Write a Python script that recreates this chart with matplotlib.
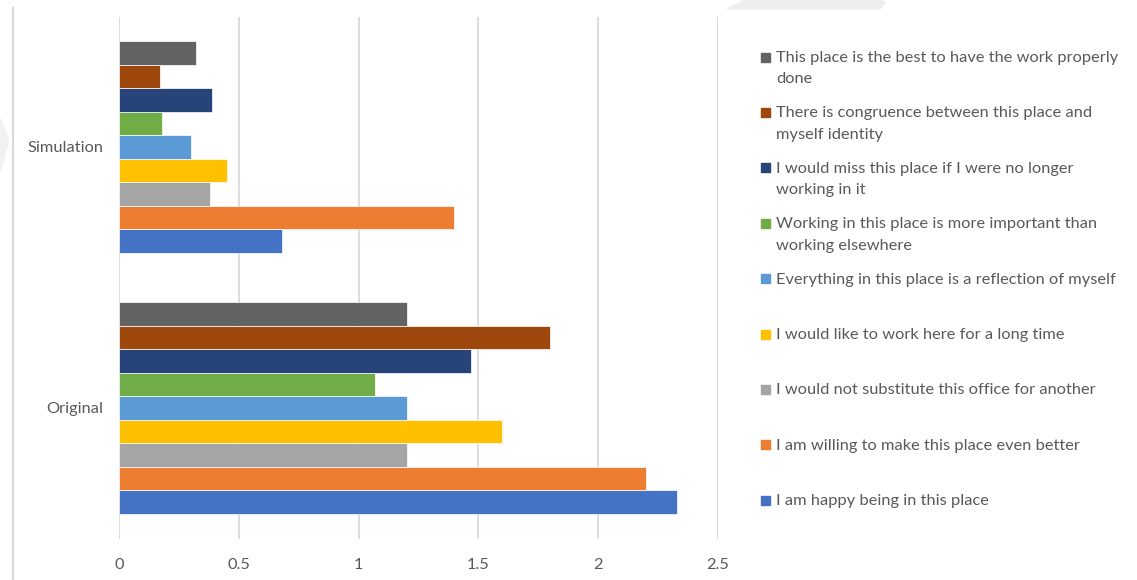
import matplotlib
matplotlib.use("Agg")
import matplotlib.pyplot as plt
from matplotlib.patches import Polygon, Rectangle
import numpy as np

categories = ["Original", "Simulation"]
series_labels = [
    "I am happy being in this place",
    "I am willing to make this place even better",
    "I would not substitute this office for another",
    "I would like to work here for a long time",
    "Everything in this place is a reflection of myself",
    "Working in this place is more important than\nworking elsewhere",
    "I would miss this place if I were no longer\nworking in it",
    "There is congruence between this place and\nmyself identity",
    "This place is the best to have the work properly\ndone",
]
original_values = [2.33, 2.20, 1.20, 1.60, 1.20, 1.07, 1.47, 1.80, 1.20]
simulation_values = [0.68, 1.40, 0.38, 0.45, 0.30, 0.18, 0.39, 0.17, 0.32]
colors = ["#4472C4", "#ED7D31", "#A5A5A5", "#FFC000", "#5B9BD5",
          "#70AD47", "#264478", "#9E480E", "#636363"]
x_ticks = [0, 0.5, 1, 1.5, 2, 2.5]
x_tick_labels = ["0", "0.5", "1", "1.5", "2", "2.5"]

FONT = "Lato"
FS = 11.8
TXT = "#595959"
W, H = 1137, 580
fig = plt.figure(figsize=(W / 100, H / 100), dpi=100)
fig.patch.set_facecolor("white")

def fx(px):
    return px / W

def fy(py):
    return 1 - py / H

ax = fig.add_axes([fx(119), fy(538.5), fx(718) - fx(119), fy(16.5) - fy(538.5)])

n = len(series_labels)
h = 0.81 / n
ypos = np.arange(len(categories))
for i in range(n):
    vals = [original_values[i], simulation_values[i]]
    ax.barh(ypos + (i - (n - 1) / 2) * h, vals, height=h, color=colors[i],
            edgecolor="white", linewidth=0.5, zorder=3, label=series_labels[i])

ax.set_xlim(0, 2.5)
ax.set_ylim(-0.5, 1.5)
ax.set_xticks(x_ticks)
ax.set_xticklabels(x_tick_labels)
ax.set_yticks(ypos)
ax.set_yticklabels(categories)
ax.grid(axis="x", color="#D9D9D9", linewidth=1.3, zorder=0)
ax.set_axisbelow(True)
for s in ax.spines.values():
    s.set_visible(False)
ax.tick_params(axis="both", length=0, labelcolor=TXT, labelsize=FS)
ax.tick_params(axis="x", pad=14)
ax.tick_params(axis="y", pad=11)
for lbl in ax.get_xticklabels() + ax.get_yticklabels():
    lbl.set_fontfamily(FONT)

# legend drawn manually (top to bottom = last series first)
for k, i in enumerate(range(n - 1, -1, -1)):
    yc = 57 + 55.4 * k
    fig.patches.append(Rectangle((fx(761), fy(yc + 4.5)), fx(9), 9 / H,
                                 transform=fig.transFigure, color=colors[i]))
    fig.text(fx(776), fy(yc - 6), series_labels[i], fontsize=FS,
             color=TXT, family=FONT, va="top", ha="left", linespacing=1.68)

# page decorations
fig.add_artist(plt.Line2D([fx(12.5), fx(12.5)], [fy(8), fy(580)],
                          transform=fig.transFigure, color="#D9D9D9", linewidth=1.5))
fig.patches.append(Polygon([(fx(727), fy(9)), (fx(745), fy(0)), (fx(878), fy(0)),
                            (fx(885), fy(2)), (fx(880), fy(9))],
                           closed=True, transform=fig.transFigure, color="#EEEEEE"))
fig.patches.append(Polygon([(fx(0), fy(118)), (fx(9), fy(140)), (fx(0), fy(172))],
                           closed=True, transform=fig.transFigure, color="#F2F2F2"))

fig.savefig("out.png", dpi=100)
